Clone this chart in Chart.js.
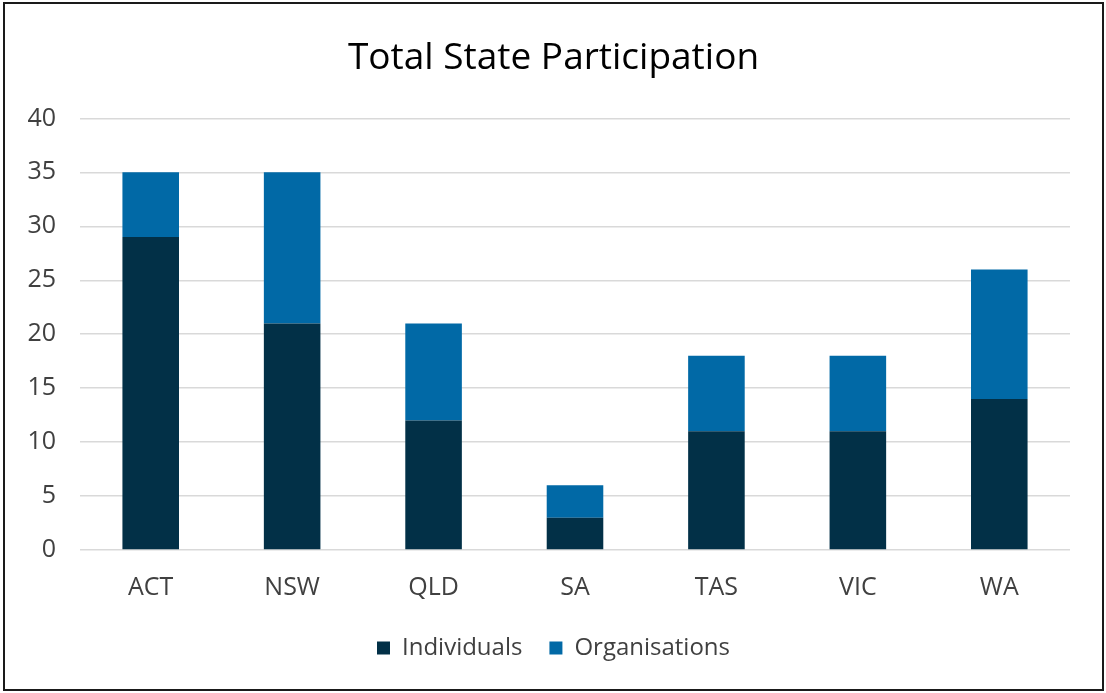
<!DOCTYPE html>
<html>
<head>
<meta charset="utf-8">
<script src="https://cdn.jsdelivr.net/npm/chart.js@4"></script>
<style>
  body { margin: 0; background: #fff; }
  #frame {
    position: absolute; left: 3px; top: 2px;
    width: 1101px; height: 689px;
    box-sizing: border-box;
    border: 2px solid #1a1a1a;
  }
  #chart { display: block; }
</style>
</head>
<body>
<div id="frame">
  <canvas id="chart" width="1097" height="685"></canvas>
</div>
<script>
// Chart data
const states = ['ACT', 'NSW', 'QLD', 'SA', 'TAS', 'VIC', 'WA'];
const individuals = [29, 21, 12, 3, 11, 11, 14];
const organisations = [6, 14, 9, 3, 7, 7, 12];
const yTicks = [0, 5, 10, 15, 20, 25, 30, 35, 40];

const fontFamily = '"Open Sans", "Noto Sans", sans-serif';

const ctx = document.getElementById('chart').getContext('2d');
new Chart(ctx, {
    type: 'bar',
    data: {
        labels: states,
        datasets: [
            {
                label: 'Individuals',
                data: individuals,
                backgroundColor: '#023047',
                barPercentage: 1,
                categoryPercentage: 0.4
            },
            {
                label: 'Organisations',
                data: organisations,
                backgroundColor: '#0169A6',
                barPercentage: 1,
                categoryPercentage: 0.4
            }
        ]
    },
    options: {
        responsive: false,
        animation: false,
        layout: {
            padding: { left: 0, right: 0, top: 0, bottom: 19 }
        },
        plugins: {
            title: {
                display: true,
                text: 'Total State Participation',
                color: '#000',
                font: { family: fontFamily, size: 37, weight: 'normal' },
                padding: { top: 32, bottom: 38 }
            },
            legend: {
                position: 'bottom',
                labels: {
                    color: '#404040',
                    font: { family: fontFamily, size: 24 },
                    boxWidth: 13,
                    boxHeight: 13,
                    padding: 27
                }
            },
            tooltip: { enabled: false }
        },
        scales: {
            x: {
                stacked: true,
                grid: { display: false, drawTicks: false },
                border: { display: false },
                ticks: {
                    color: '#404040',
                    font: { family: fontFamily, size: 25 },
                    padding: 23
                },
                afterFit: (scale) => { scale.height = 59; }
            },
            y: {
                stacked: true,
                min: 0,
                max: 40,
                afterBuildTicks: (scale) => {
                    scale.ticks = yTicks.map(v => ({ value: v }));
                },
                grid: { color: '#d9d9d9', lineWidth: 1.5, drawTicks: false },
                border: { display: false },
                ticks: {
                    color: '#404040',
                    font: { family: fontFamily, size: 25 },
                    padding: 24
                },
                afterFit: (scale) => { scale.width = 75; }
            },
            // empty right-hand axis that only reserves the right margin
            yRight: {
                position: 'right',
                display: true,
                grid: { display: false, drawTicks: false },
                border: { display: false },
                ticks: { display: false },
                afterFit: (scale) => { scale.width = 32; }
            }
        }
    }
});
</script>
</body>
</html>
